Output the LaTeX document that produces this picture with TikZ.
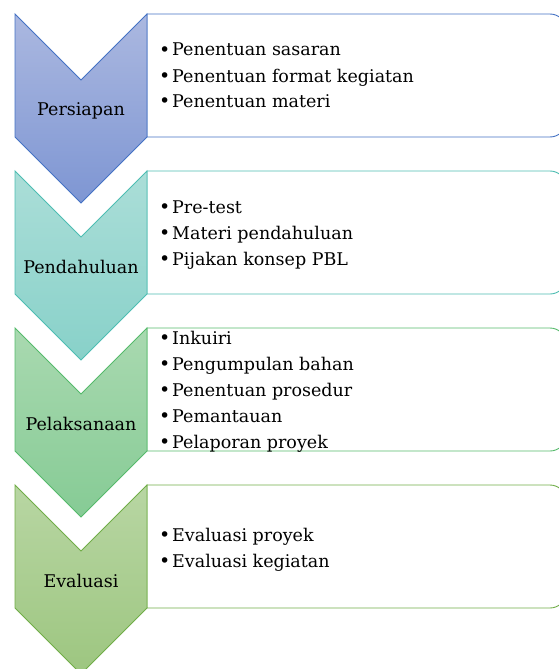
\documentclass[tikz,border=0pt]{standalone}
\usepackage{fontspec}
\setmainfont{DejaVu Serif}
\definecolor{oneline}{HTML}{4472C4}
\definecolor{onetop}{HTML}{ABB8E0}
\definecolor{onebot}{HTML}{7E96D3}
\definecolor{twoline}{HTML}{4DBDB2}
\definecolor{twotop}{HTML}{ABDED8}
\definecolor{twobot}{HTML}{88D1C9}
\definecolor{threeline}{HTML}{55BA6B}
\definecolor{threetop}{HTML}{A9D9B0}
\definecolor{threebot}{HTML}{86CB95}
\definecolor{fourline}{HTML}{70AD47}
\definecolor{fourtop}{HTML}{B8D6A3}
\definecolor{fourbot}{HTML}{9DC680}
\newcommand\itembul{\makebox[12pt][l]{\hspace{-1pt}\fontsize{19}{19}\selectfont\raisebox{-0.5pt}{•}}}
\begin{document}
\begin{tikzpicture}[x=1pt,y=1pt,
  chev/.style={draw=#1line, top color=#1top, bottom color=#1bot, line width=0.9pt, line join=miter},
  bx/.style={draw=#1line, fill=white, line width=0.9pt},
  lab/.style={anchor=base, inner sep=0pt, font=\fontsize{17.5}{20}\selectfont, text=black},
  itm/.style={anchor=base west, inner sep=0pt, font=\fontsize{17.5}{20}\selectfont, text=black}]
\useasboundingbox (0,0) rectangle (559,-669);
\clip (0,0) rectangle (559,-669);
\foreach \t/\c in {14/one,171/two,328/three,485/four}{
  \draw[bx=\c] (147,-\t) -- (550,-\t) arc[start angle=90,end angle=0,radius=16]
    -- (566,{-\t-107}) arc[start angle=0,end angle=-90,radius=16] -- (147,{-\t-123}) -- cycle;
  \path[chev=\c] (15,-\t) -- (81,{-\t-66}) -- (147,-\t) -- (147,{-\t-123})
    -- (81,{-\t-189}) -- (15,{-\t-123}) -- cycle;
}
\node[lab] (persiapan) at (81,-115) {Persiapan};
\node[lab] (pendahuluan) at (81,-273) {Pendahuluan};
\node[lab] (pelaksanaan) at (81,-430) {Pelaksanaan};
\node[lab] (evaluasi) at (81,-587) {Evaluasi};
\foreach \y/\s [count=\i] in {56/Penentuan sasaran, 82/Penentuan format kegiatan, 107/Penentuan materi,
  213/Pre-test, 239/Materi pendahuluan, 265/Pijakan konsep PBL,
  344/Inkuiri, 370/Pengumpulan bahan, 396/Penentuan prosedur, 422/Pemantauan, 448/Pelaporan proyek,
  541/Evaluasi proyek, 567/Evaluasi kegiatan}
  \node[itm] (item\i) at (160,-\y) {\itembul\s};
\end{tikzpicture}
\end{document}
